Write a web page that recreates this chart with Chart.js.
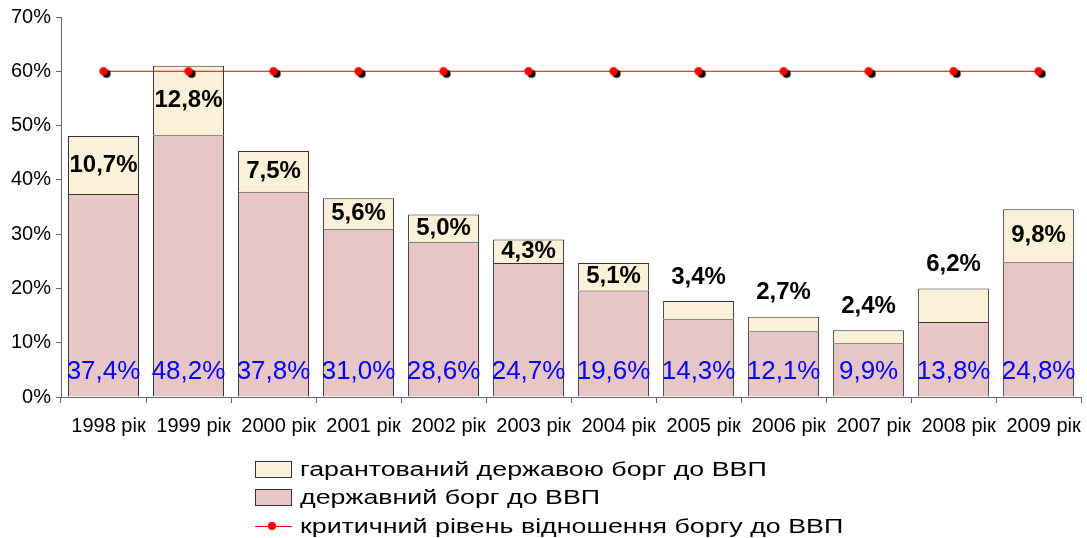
<!DOCTYPE html>
<html>
<head>
<meta charset="utf-8">
<script src="https://cdn.jsdelivr.net/npm/chart.js@4/dist/chart.umd.min.js"></script>
<style>
	body { margin: 0; background: #fff; font-family: "Liberation Sans", Arial, sans-serif; }
	#wrap { position: relative; width: 1087px; height: 538px; }
	#legende { position: absolute; left: 255px; top: 455px; font-size: 20px; color: #000; }
	.zeile { height: 28.5px; display: flex; align-items: center; white-space: nowrap; }
	.text { display: inline-block; transform: scaleX(1.34); transform-origin: left center; }
	.kasten { width: 37px; height: 17px; border: 1px solid #333; margin-right: 8px; box-sizing: border-box; }
	.linie { width: 37px; height: 15px; margin-right: 8px; position: relative; }
	.linie::before { content: ""; position: absolute; left: 0; right: 0; top: 7px; height: 1px; background: #ff0000; }
	.linie::after { content: ""; position: absolute; left: 13px; top: 3.5px; width: 8px; height: 8px; border-radius: 50%; background: #ff0000; }
</style>
</head>
<body>
<div id="wrap">
	<canvas id="chart" width="1087" height="538"></canvas>
	<div id="legende">
		<div class="zeile"><span class="kasten" style="background:#fbf0d8"></span><span class="text">гарантований державою борг до ВВП</span></div>
		<div class="zeile"><span class="kasten" style="background:#e8c6c6"></span><span class="text">державний борг до ВВП</span></div>
		<div class="zeile"><span class="linie"></span><span class="text">критичний рівень відношення боргу до ВВП</span></div>
	</div>
</div>
<script>
// Daten
const jahre = ["1998 рік", "1999 рік", "2000 рік", "2001 рік", "2002 рік", "2003 рік",
	"2004 рік", "2005 рік", "2006 рік", "2007 рік", "2008 рік", "2009 рік"];
const staatsschuld = [37.4, 48.2, 37.8, 31.0, 28.6, 24.7, 19.6, 14.3, 12.1, 9.9, 13.8, 24.8];
const garantiert = [10.7, 12.8, 7.5, 5.6, 5.0, 4.3, 5.1, 3.4, 2.7, 2.4, 6.2, 9.8];
const kritisch = [60, 60, 60, 60, 60, 60, 60, 60, 60, 60, 60, 60];
const yTicks = [0, 10, 20, 30, 40, 50, 60, 70];

// Beschriftung über dem Balken statt innen (Index)
const labelOben = [7, 8, 9, 10];

const fmt = v => v.toFixed(1).replace(".", ",") + "%";

// Punkt mit schwarzem Schatten
const punkt = document.createElement("canvas");
punkt.width = 20;
punkt.height = 20;
{
	const c = punkt.getContext("2d");
	c.fillStyle = "#000";
	c.beginPath(); c.arc(13, 12.5, 4, 0, Math.PI * 2); c.fill();
	c.fillStyle = "#ff0000";
	c.beginPath(); c.arc(10, 10, 4.2, 0, Math.PI * 2); c.fill();
}

const wertePlugin = {
	id: "werte",
	afterDatasetsDraw(chart) {
		const ctx = chart.ctx;
		const y = chart.scales.y;
		ctx.save();
		ctx.textAlign = "center";
		ctx.textBaseline = "middle";

		ctx.font = "26px 'Liberation Sans', Arial, sans-serif";
		ctx.fillStyle = "#0000ff";
		chart.getDatasetMeta(0).data.forEach((bar, i) => {
			ctx.fillText(fmt(staatsschuld[i]), bar.x, y.getPixelForValue(0) - 25);
		});

		ctx.font = "bold 24px 'Liberation Sans', Arial, sans-serif";
		ctx.fillStyle = "#000";
		chart.getDatasetMeta(1).data.forEach((bar, i) => {
			const yy = labelOben.includes(i) ? bar.y - 24 : (bar.y + bar.base) / 2;
			ctx.fillText(fmt(garantiert[i]), bar.x, yy);
		});
		ctx.restore();
	}
};

new Chart(document.getElementById("chart"), {
	data: {
		labels: jahre,
		datasets: [
			{
				type: "bar",
				label: "державний борг до ВВП",
				data: staatsschuld,
				backgroundColor: "#e8c6c6",
				borderColor: "#333",
				borderWidth: 1,
				barPercentage: 0.835,
				categoryPercentage: 1,
				stack: "schuld",
				order: 1
			},
			{
				type: "bar",
				label: "гарантований державою борг до ВВП",
				data: garantiert,
				backgroundColor: "#fbf0d8",
				borderColor: "#333",
				borderWidth: 1,
				barPercentage: 0.835,
				categoryPercentage: 1,
				stack: "schuld",
				order: 1
			},
			{
				type: "line",
				label: "критичний рівень відношення боргу до ВВП",
				data: kritisch,
				borderColor: "#ff0000",
				borderWidth: 1,
				pointStyle: punkt,
				stack: "krit",
				order: 0
			}
		]
	},
	options: {
		responsive: false,
		animation: false,
		layout: { padding: { top: 17, right: 5, left: 0, bottom: 0 } },
		scales: {
			x: {
				stacked: true,
				offset: true,
				border: { color: "#666", width: 1 },
				grid: { display: true, drawOnChartArea: false, offset: true, tickLength: 6, color: "#666" },
				ticks: { color: "#000", padding: 11, labelOffset: 5, maxRotation: 0, autoSkip: false,
					font: { size: 20, family: "'Liberation Sans', Arial, sans-serif" } },
				afterFit: s => { s.height = 141; }
			},
			y: {
				stacked: true,
				min: 0,
				max: 70,
				border: { color: "#666", width: 1 },
				grid: { display: true, drawOnChartArea: false, tickLength: 5, color: "#666" },
				afterBuildTicks: s => { s.ticks = yTicks.map(v => ({ value: v })); },
				ticks: { color: "#000", padding: 5, callback: v => v + "%",
					font: { size: 20, family: "'Liberation Sans', Arial, sans-serif" } },
				afterFit: s => { s.width = 61; }
			}
		},
		plugins: {
			legend: { display: false },
			tooltip: { enabled: false }
		}
	},
	plugins: [wertePlugin]
});
</script>
</body>
</html>
